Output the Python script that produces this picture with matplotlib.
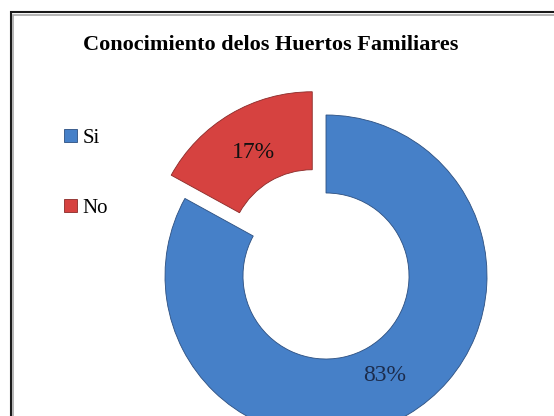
import matplotlib.pyplot as plt
from matplotlib.patches import Rectangle

labels = ['Si', 'No']
values = [83, 17]
colors = ['#4680c8', '#d64240']
explode = [0, 27]  # pie() takes the offset in data units (pixels here)
title = 'Conocimiento delos Huertos Familiares'

W, H = 554, 416
fig = plt.figure(figsize=(W / 100, H / 100), dpi=100)
ax = fig.add_axes([0, 0, 1, 1])
ax.set_xlim(0, W)
ax.set_ylim(0, H)
ax.set_aspect('equal')
ax.axis('off')

wedges, texts, autotexts = ax.pie(
    values, colors=colors, explode=explode, startangle=90, counterclock=False,
    center=(326, 140), radius=161, autopct='%1.0f%%', pctdistance=0.72,
    wedgeprops=dict(width=78, edgecolor='#2c4f80', linewidth=0.6),
    textprops=dict(family='Liberation Serif', fontsize=17))
wedges[1].set_edgecolor('#8a2a28')
autotexts[0].set_color('#1c2c4c')
autotexts[1].set_color('#111111')
ax.set_xlim(0, W)
ax.set_ylim(0, H)

fig.text(271 / W, 1 - 45 / H, title, ha='center', va='center',
         family='Liberation Serif', fontweight='bold', fontsize=16)

ax.legend(wedges, labels, loc='upper left', bbox_to_anchor=(64 / W, 1 - 129 / H),
          bbox_transform=fig.transFigure, frameon=False, borderpad=0,
          borderaxespad=0, labelspacing=2.45, handlelength=0.6, handleheight=0.6,
          handletextpad=0.3, prop=dict(family='Liberation Serif', size=15))

# chart border
fig.add_artist(Rectangle((10.5 / W, -0.05), 1.1, 1 - 12.5 / H + 0.05,
                         transform=fig.transFigure, fill=False,
                         edgecolor='#1a1a1a', linewidth=1.5))
fig.add_artist(Rectangle((13 / W, -0.05), 1.1, 1 - 15 / H + 0.05,
                         transform=fig.transFigure, fill=False,
                         edgecolor='#a8a8a8', linewidth=1.2))

fig.savefig('out.png', dpi=100)
